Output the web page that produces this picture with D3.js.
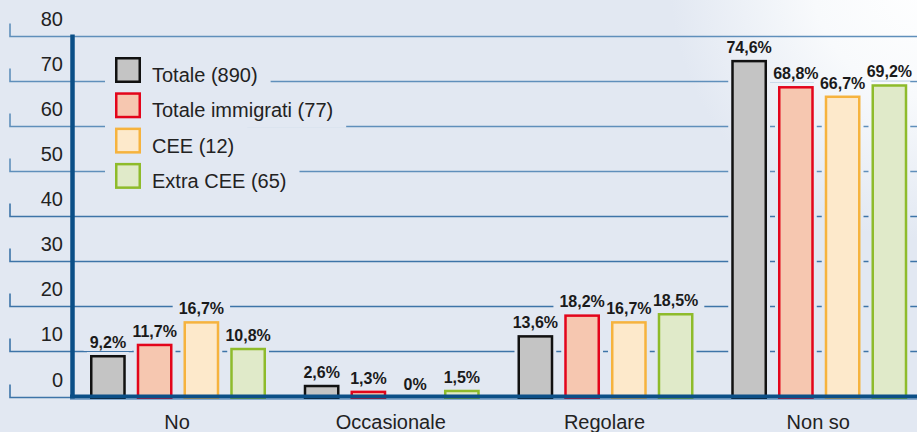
<!DOCTYPE html>
<meta charset="utf-8">
<script src="https://d3js.org/d3.v7.min.js"></script>
<style>
body { margin: 0; }
svg { display: block; }
text { font-family: "Liberation Sans", Arial, sans-serif; fill: #222; }
.val { font-family: "Liberation Sans Narrow", "Arial Narrow", "Liberation Sans", sans-serif; font-weight: bold; font-size: 16px; fill: #1a1a1a; }
</style>
<body>
<div id="chart"></div>
<script>
// data
var categories = ['No', 'Occasionale', 'Regolare', 'Non so'];
var seriesNames = ['Totale (890)', 'Totale immigrati (77)', 'CEE (12)', 'Extra CEE (65)'];
var totale      = [9.2, 2.6, 13.6, 74.6];
var immigrati   = [11.7, 1.3, 18.2, 68.8];
var cee         = [16.7, 0, 16.7, 66.7];
var extraCee    = [10.8, 1.5, 18.5, 69.2];
var yTicks = [0, 10, 20, 30, 40, 50, 60, 70, 80];

var seriesValues = [totale, immigrati, cee, extraCee];
var fills   = ['#c4c4c4', '#f6c7b0', '#fde9cb', '#e0eac9'];
var strokes = ['#111111', '#e3051b', '#f6b33e', '#8ebb2b'];
var bg = '#e2e8f2';

var width = 917, height = 432;
var base = 396.5;

var svg = d3.select('#chart').append('svg')
    .attr('width', width)
    .attr('height', height);

// background with light glow top right
var defs = svg.append('defs');
var grad = defs.append('radialGradient')
    .attr('id', 'glow')
    .attr('cx', 930).attr('cy', -20).attr('r', 260)
    .attr('gradientUnits', 'userSpaceOnUse');
grad.append('stop').attr('offset', '0%').attr('stop-color', '#ffffff');
grad.append('stop').attr('offset', '45%').attr('stop-color', '#f8fafc');
grad.append('stop').attr('offset', '100%').attr('stop-color', bg);
var bgFill = 'url(#glow)';

svg.append('rect').attr('width', width).attr('height', height).attr('fill', bgFill);

// scales
var y = d3.scaleLinear().domain([0, 80]).range([base, 35.5]);

var x0 = d3.scaleBand()
    .domain(categories)
    .range([71, 926]);

var x1 = d3.scaleBand()
    .domain(seriesNames)
    .range([19, 195])
    .paddingInner(0.235);

// layers
var gridLayer = svg.append('g');
var maskLayer = svg.append('g');
var barLayer = svg.append('g');
var textLayer = svg.append('g');
var axisLayer = svg.append('g');

// gridlines with left stubs
gridLayer.selectAll('.gl')
    .data(yTicks)
    .enter()
    .append('path')
    .attr('fill', 'none')
    .attr('stroke', function(d) { return d >= 50 ? '#5f8fbb' : '#3d74a8'; })
    .attr('stroke-width', 1.6)
    .attr('d', function(d) {
        var yy = Math.round(y(d)) + 0.5;
        return 'M10,' + (yy - 13) + 'V' + yy + 'H' + width;
    });

gridLayer.selectAll('.tl')
    .data(yTicks)
    .enter()
    .append('text')
    .attr('x', 63)
    .attr('y', function(d) { return y(d) - 10; })
    .attr('text-anchor', 'end')
    .style('font-size', '20px')
    .text(function(d) { return d; });

// legend
var legX = 115, legY = 57, legStep = 35.3;
var legItems = textLayer.selectAll('.leg')
    .data(seriesNames)
    .enter()
    .append('g')
    .attr('transform', function(d, i) { return 'translate(' + legX + ',' + (legY + i * legStep) + ')'; });

legItems.append('rect')
    .attr('x', 1.25).attr('y', 1.25)
    .attr('width', 23.5).attr('height', 23.5)
    .attr('fill', function(d, i) { return fills[i]; })
    .attr('stroke', function(d, i) { return strokes[i]; })
    .attr('stroke-width', 2.5);

legItems.append('text')
    .attr('x', 37)
    .attr('y', 25)
    .style('font-size', '20px')
    .text(function(d) { return d; });

// legend background blocks cut the gridlines
legItems.each(function(d, i) {
    var tw = d3.select(this).select('text').node().getComputedTextLength();
    maskLayer.append('rect')
        .attr('x', 105)
        .attr('y', legY + i * legStep - 1)
        .attr('width', legX + 37 + tw + 13 - 105)
        .attr('height', 36.5)
        .attr('fill', bgFill);
});

function fmt(v) {
    if (v === 0) return '0%';
    return d3.format('.1f')(v).replace('.', ',') + '%';
}

// flat list of bars
var bars = [];
categories.forEach(function(cat, ci) {
    seriesNames.forEach(function(s, si) {
        bars.push({cat: cat, series: s, si: si, value: seriesValues[si][ci]});
    });
});
var bx = function(d) { return x0(d.cat) + x1(d.series); };

// halos behind bars
maskLayer.selectAll('.halo')
    .data(bars.filter(function(d) { return d.value > 0; }))
    .enter()
    .append('rect')
    .attr('x', function(d) { return bx(d) - 3; })
    .attr('y', function(d) { return y(d.value) - 3; })
    .attr('width', x1.bandwidth() + 6)
    .attr('height', function(d) { return base - y(d.value) + 3; })
    .attr('fill', bgFill);

barLayer.selectAll('.bar')
    .data(bars.filter(function(d) { return d.value > 0; }))
    .enter()
    .append('rect')
    .attr('x', function(d) { return bx(d) + 1.25; })
    .attr('y', function(d) { return y(d.value) + 1.25; })
    .attr('width', x1.bandwidth() - 2.5)
    .attr('height', function(d) { return base - y(d.value); })
    .attr('fill', function(d) { return fills[d.si]; })
    .attr('stroke', function(d) { return strokes[d.si]; })
    .attr('stroke-width', 2.5);

// value labels
var vals = textLayer.selectAll('.val')
    .data(bars)
    .enter()
    .append('text')
    .attr('class', 'val')
    .attr('text-anchor', 'middle')
    .attr('x', function(d) { return bx(d) + x1.bandwidth() / 2; })
    .attr('y', function(d) { return y(d.value) - 7; })
    .text(function(d) { return fmt(d.value); });

vals.each(function(d) {
    var tw = this.getComputedTextLength();
    maskLayer.append('rect')
        .attr('x', bx(d) + x1.bandwidth() / 2 - tw / 2 - 6)
        .attr('y', y(d.value) - 22)
        .attr('width', tw + 12)
        .attr('height', 18)
        .attr('fill', bgFill);
});

// axes
axisLayer.append('line')
    .attr('x1', 70).attr('x2', width)
    .attr('y1', 399.5).attr('y2', 399.5)
    .attr('stroke', '#86a8cb').attr('stroke-width', 1);

axisLayer.append('line')
    .attr('x1', 70).attr('x2', width)
    .attr('y1', base).attr('y2', base)
    .attr('stroke', '#0b4f87').attr('stroke-width', 4);

axisLayer.append('line')
    .attr('x1', 72.5).attr('x2', 72.5)
    .attr('y1', y(80) - 1).attr('y2', base + 2)
    .attr('stroke', '#0b4f87').attr('stroke-width', 4.5);

// category labels
axisLayer.selectAll('.cat')
    .data(categories)
    .enter()
    .append('text')
    .attr('x', function(d) { return x0(d) + 106; })
    .attr('y', 429)
    .attr('text-anchor', 'middle')
    .style('font-size', '20px')
    .text(function(d) { return d; });
</script>
</body>
